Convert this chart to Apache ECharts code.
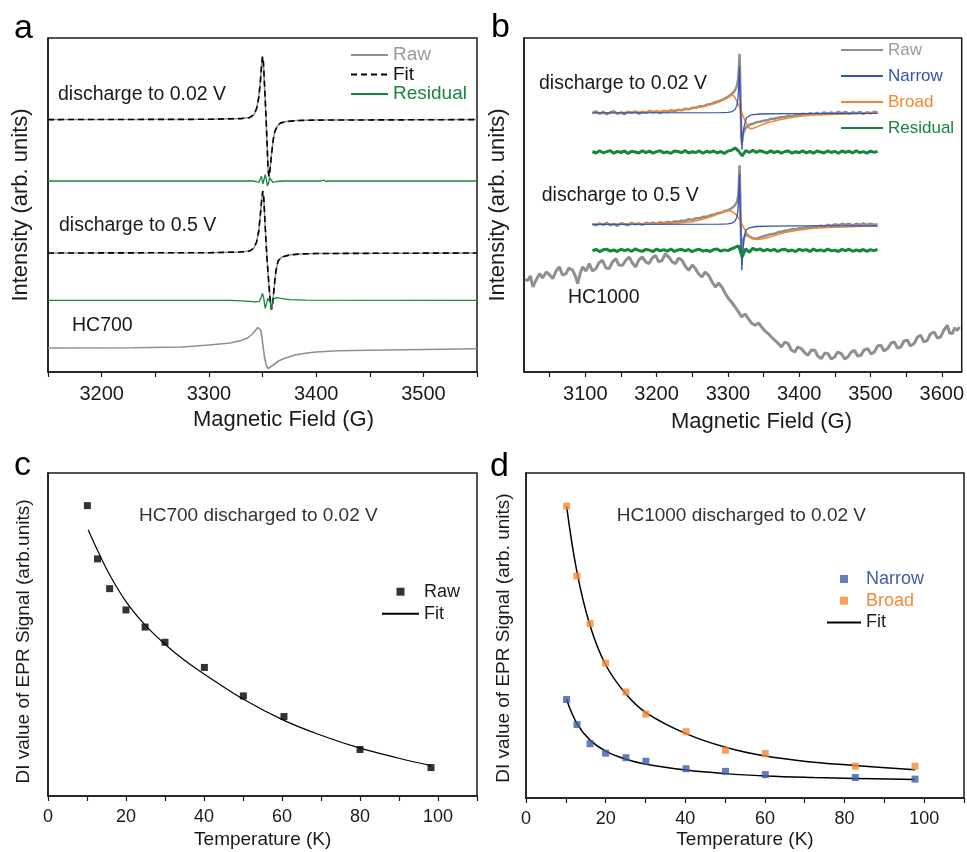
<!DOCTYPE html>
<html><head><meta charset="utf-8">
<script src="https://cdn.jsdelivr.net/npm/echarts@6/dist/echarts.min.js"></script>
<style>html,body{margin:0;padding:0;background:#fff}#c{width:967px;height:852px}</style>
</head><body><div id="c"></div>
<script>
// ---------- Panel a (HC700 EPR spectra), [field G, intensity] ----------
const a002 = [[3150,0],[3300,0.3],[3330,1],[3338,2],[3342,5],[3344.5,11],[3346.5,22],[3348,38],[3349.2,55],[3350,63],[3350.8,58],[3352,32],[3353.2,5],[3354.3,-25],[3355.2,-50],[3356,-57],[3357,-50],[3358.4,-35],[3360,-20],[3361.5,-12],[3364,-6],[3367,-3.3],[3372,-2],[3382,-1],[3400,-0.5],[3550,0]];
const a05 = [[3150,0],[3300,0.3],[3330,1],[3338,2],[3342,5],[3344.5,11],[3346.5,22],[3348,38],[3349.3,54],[3350.3,62],[3351.2,55],[3352.5,27],[3354,-2],[3355.5,-25],[3357,-45],[3358.4,-56.7],[3359.5,-50],[3361,-33],[3362.5,-18],[3364.5,-8],[3368,-4],[3375,-2],[3385,-1],[3400,-0.5],[3550,0]];
const resA1 = [[3150,0],[3340,0],[3344,-0.5],[3346.5,-1.5],[3348,2],[3349,5],[3350.3,-3],[3351.3,-1],[3352.6,6.5],[3353.6,1],[3354.6,-5],[3355.8,-1],[3356.8,3.5],[3358,1],[3360,-1.5],[3363,-0.5],[3370,0],[3405,0],[3407,0.8],[3409,-0.5],[3411,0],[3550,0]];
const resA2 = [[3150,0],[3320,0],[3335,-0.8],[3343,-1.5],[3347,-1],[3348.8,3],[3350,7],[3351.2,2],[3352.5,-8],[3353.8,-3],[3355,2],[3356.2,3.5],[3357.2,-2],[3358.2,-8.5],[3359.3,-3],[3360.5,1.5],[3363,2.7],[3367,2],[3375,0.7],[3390,0.2],[3550,0]];
const hc700 = [[3150,0],[3230,0.3],[3275,1],[3300,3],[3320,5],[3330,7.5],[3336,10],[3340,13.5],[3343,17],[3345.5,20.5],[3347,21],[3348.3,18],[3349.5,10],[3350.6,1],[3352,-10],[3353.5,-17],[3355.2,-20.7],[3357,-19.5],[3360,-17],[3365,-13],[3370,-10.5],[3380,-7],[3390,-5.3],[3400,-4],[3420,-2.8],[3450,-2.3],[3500,-1.5],[3550,-0.7]];

// ---------- Panel b (HC1000 EPR spectra) ----------
const raw002b = [[3110,0],[3115,1.5],[3120,-1],[3125,1],[3130,-1.5],[3135,0.5],[3140,1.5],[3145,-1],[3150,0.5],[3155,-1.5],[3160,1],[3165,0],[3170,1.5],[3175,-1],[3180,1],[3185,0],[3190,2],[3195,0.5],[3200,1.5],[3205,0],[3210,2],[3215,1],[3220,2.5],[3225,1.5],[3230,3],[3235,2.5],[3240,4],[3245,3.5],[3250,5],[3255,5],[3260,6.5],[3265,6.5],[3270,8],[3275,8.5],[3280,10],[3285,11],[3290,12.5],[3295,14],[3300,16],[3304,18],[3308,20.5],[3311,24],[3313,28],[3314.5,34],[3315.5,44],[3316.3,59],[3317,40],[3318,5],[3318.8,-22],[3319.5,-30],[3320.5,-24],[3322,-19],[3325,-15],[3330,-12],[3335,-11],[3340,-9.5],[3345,-9],[3350,-8],[3355,-7.5],[3360,-6],[3365,-6],[3370,-5],[3375,-4.5],[3380,-4],[3385,-3],[3390,-3.5],[3395,-2],[3400,-2.5],[3405,-1],[3410,-2],[3415,-0.5],[3420,-1.5],[3425,0],[3430,-1.5],[3435,0.5],[3440,-1],[3445,0.5],[3450,-1],[3455,1],[3460,-0.5],[3465,1],[3470,-1],[3475,0.5],[3480,-0.5],[3485,1],[3490,-1],[3495,0.5],[3500,-0.5],[3505,1],[3510,0]];
const broad002b = [[3110,0],[3150,0.3],[3185,1],[3210,1.8],[3230,2.7],[3250,4.2],[3268,6.7],[3280,9],[3287,10.7],[3295,13.5],[3301,15.8],[3306,17.7],[3309,16.5],[3312.5,11.7],[3316,6],[3319.5,0],[3323,-6],[3326.5,-11.7],[3331,-16],[3336,-15.5],[3343,-13.3],[3355,-10],[3371,-7.3],[3390,-4.5],[3417,-2.3],[3440,-1.7],[3464,-1.3],[3490,-0.5],[3510,0]];
const narrow002b = [[3110,0],[3290,0.2],[3300,0.5],[3306,1.2],[3310,3.3],[3312.5,7],[3314,13.3],[3315.3,28],[3316.2,46.5],[3317.2,18],[3318.5,-12],[3319.7,-37],[3320.9,-24],[3322.7,-14],[3326,-5],[3333,-2],[3345,-1.2],[3380,-0.8],[3510,-0.5]];
const raw05b = [[3110,0],[3115,-1],[3120,1],[3125,-0.5],[3130,1.5],[3135,-1],[3140,0.5],[3145,-1.5],[3150,1],[3155,0],[3160,-1],[3165,1.5],[3170,0],[3175,1],[3180,-0.5],[3185,1.5],[3190,0.5],[3195,1.5],[3200,0.5],[3205,2],[3210,1],[3215,2.5],[3220,1.5],[3225,3],[3230,2.5],[3235,3.5],[3240,3.5],[3245,5],[3250,4.5],[3255,6],[3260,6],[3265,7.5],[3270,7.5],[3275,9],[3280,9.5],[3285,11],[3290,11.5],[3295,13],[3300,14],[3304,15.5],[3308,17.5],[3311,20],[3313,23],[3314.5,29],[3315.5,40],[3316.3,59],[3317,38],[3318,0],[3318.8,-25],[3319.5,-32],[3320.5,-24],[3322,-15],[3325,-10],[3330,-12],[3335,-14],[3340,-14.5],[3345,-13],[3350,-12],[3355,-11],[3360,-10],[3365,-9.5],[3370,-8],[3375,-7.5],[3380,-6.5],[3385,-6],[3390,-5],[3395,-5],[3400,-4],[3405,-4],[3410,-3],[3415,-3.5],[3420,-2],[3425,-2.5],[3430,-1.5],[3435,-2],[3440,-0.5],[3445,-1.5],[3450,0],[3455,-1],[3460,0.5],[3465,-0.5],[3470,0.5],[3475,-1],[3480,0.5],[3485,-0.5],[3490,1],[3495,-0.5],[3500,0.5],[3505,-0.5],[3510,0]];
const broad05b = [[3110,0],[3160,0.3],[3200,0.8],[3231,1.3],[3250,2.5],[3268,5.7],[3280,8.5],[3287,10.7],[3293,12.8],[3298.5,14],[3304,13.3],[3310,10.7],[3315,6.5],[3319.4,0.7],[3324,-5.5],[3328.7,-11],[3334,-14],[3340.3,-15.3],[3347,-14.8],[3356.6,-13.3],[3368,-10.8],[3380,-8.3],[3398,-6],[3417,-4.3],[3440,-3.3],[3464,-2.7],[3490,-2],[3510,-1.7]];
const narrow05b = [[3110,0],[3290,0.2],[3300,0.5],[3306,1.2],[3310,3.3],[3312.5,7],[3314,13],[3315.3,27],[3316.2,50],[3317.2,20],[3318.5,-15],[3319.6,-46],[3320.8,-28],[3322.5,-14],[3325,-6],[3330,-3.5],[3340,-2.2],[3360,-1.8],[3400,-1.6],[3510,-1.5]];
const resB1Vals = [0.5,-1,1.2,-0.8,0.4,1.4,-1.2,0.6,-0.5,1,-1.4,0.8,0,-1,1.3,-0.6,0.9,-1.1,0.4,1.2,-0.9,0.2,-1.3,1,0.5,-0.7,1.4,-1,0.3,-0.5,1.1,-1.2,0.7,-0.3,1,-0.8,0.5,-1.4,0.9,1.8,4,1,-4,1.5,-0.5,1.6,-0.4,1.3,0.2,-1,1.2,-0.6,0.8,-1.1,0.5,1,-1.2,0.3,-0.7,1.1,-0.9,0.6,-1.3,1,0,-1,1.2,-0.5,0.7,-1.2,1,-0.3,0.8,-1,1.3,-0.6,0.4,-1.1,0.9,-0.4,0.6];
const resB2Vals = [-0.6,1,-1.3,0.5,1.2,-0.9,0.3,-1.2,1.1,-0.4,0.8,-1,1.4,-0.2,-1.1,0.9,0.2,-1.3,1.2,-0.6,0.6,-0.9,1.3,-1.2,0.4,1,-0.5,0.8,-1.4,0.3,1.1,-0.8,0.2,-1.2,0.7,1.3,-0.9,0.4,-0.3,1.5,3,4.5,-6.5,1.5,-1.8,2,0.2,1.4,-0.7,1,-0.3,0.9,-1.2,0.5,1.1,-0.8,0.3,-1.3,1,-0.2,0.7,-1.1,1.2,-0.5,0.4,-0.9,1.3,-0.6,0.2,-1.2,0.9,-0.4,1.1,-1,0.5,-0.7,0.8,-1.1,0.6,-0.3,0.9];
const resFieldStart = 3110, resFieldStep = 5;
const hc1000 = [[3015,92],[3019.5,91.7],[3023,96],[3026.5,85],[3031,92],[3035.8,98.4],[3040,94],[3045.2,100],[3050,97],[3054.4,93.4],[3059,101],[3063.7,105],[3068,97],[3073,98.4],[3077,104],[3082.3,101.7],[3086,96],[3089.3,88.4],[3093,99],[3096.2,105],[3101,101],[3105.6,108.4],[3110,101],[3114.9,103.4],[3119,109],[3124.1,111.7],[3129,104],[3133.5,103.4],[3138,110],[3142.8,113.4],[3147,107],[3152,106.7],[3157,112],[3161.4,115],[3166,109],[3170.7,105],[3175,112],[3179.9,115],[3185,110],[3189.3,108.4],[3194,114],[3198.6,116.7],[3203,110],[3207.8,111.7],[3212,118],[3217.2,115],[3222,110],[3226.5,108.4],[3231,114],[3235.7,111.7],[3240,106],[3245,101.7],[3250,107],[3254.4,103.4],[3259,98],[3263.6,95],[3268,100],[3273,96.7],[3278,90],[3282.3,85],[3287,89],[3291.5,85],[3296,79],[3300.8,73.4],[3305,70],[3310.2,65],[3315,60],[3319.4,55],[3324,58],[3328.7,53.4],[3333,49],[3338.1,46.7],[3343,49],[3347.3,45],[3352,41],[3356.6,38.4],[3361,35],[3366,31.7],[3370,29],[3375.2,25],[3380,30],[3384.5,28.4],[3389,22],[3393.9,20],[3398,25],[3403.1,23.4],[3408,19],[3412.4,16.7],[3417,22],[3421.8,21.7],[3426,16],[3431,13.4],[3436,19],[3440.3,18.4],[3445,13],[3449.7,15],[3454,20],[3459,18.4],[3464,13],[3468.2,15],[3473,20],[3477.6,21.7],[3482,16],[3486.8,16.7],[3491,22],[3496.1,23.4],[3501,18],[3505.4,20],[3510,26],[3514.6,26.7],[3519,21],[3524,23.4],[3529,29],[3533.4,30],[3538,24],[3542.6,25],[3547,31],[3551.9,31.7],[3556,26],[3561.3,28.4],[3566,35],[3570.5,36.7],[3575,30],[3579.8,31.7],[3584,38],[3589.2,40],[3594,34],[3598.5,35],[3603,42],[3607.8,46.7],[3611,39],[3614.8,38.4],[3618,44],[3621.8,41.7],[3625,45]];

// ---------- Panel c (HC700 DI vs T) ----------
const cTemps = [10.1,12.7,15.8,20,24.9,30,40.1,50.1,60.5,80,98.2];
const cRaw = [89.9,73.4,64.2,57.6,52.3,47.6,39.8,31.0,24.6,14.4,8.8];
const cFitT = [10.3,12.7,15.8,20,25,30,35,40,50,60.5,70,80,90,98.2];
const cFitV = [82.4,76,68.5,60.2,52.8,47,42,37.8,30,23.4,18.8,14.8,11.7,9.4];

// ---------- Panel d (HC1000 DI vs T) ----------
const dTemps = [10.2,12.8,16.1,20,25.1,30.1,40.2,50.1,60.1,82.7,97.7];
const dNarrow = [30.3,22.6,16.7,13.8,12.4,11.3,9.0,8.2,7.2,6.3,5.8];
const dBroad = [89.8,68.3,53.7,41.5,32.6,25.8,20.4,14.7,13.7,9.8,9.8];
const dFitT = [10.2,12.8,16.1,20,25.1,30.1,40.2,50.1,60.1,72.3,82.7,97.7];
const dFitBroad = [89.8,69.5,53,41,32,26.3,19.8,15.6,12.9,11.0,10.0,8.7];
const dFitNarrow = [30.3,22.9,17.8,14.4,11.9,10.4,8.6,7.5,6.8,6.3,6.0,5.7];

// ---------- Axis ticks ----------
const aTicks = [3150,3200,3250,3300,3350,3400,3450,3500,3550];
const aLabels = [3200,3300,3400,3500];
const bTicks = [3050,3100,3150,3200,3250,3300,3350,3400,3450,3500,3550,3600];
const bLabels = [3100,3200,3300,3400,3500,3600];
const tTicks = [0,10,20,30,40,50,60,70,80,90,100,110];
const tLabels = [0,20,40,60,80,100];

// ---------- layout / style ----------
const F = '"Liberation Sans", Arial, Helvetica, sans-serif';
const K = '#1a1a1a';
const GRAY = '#8f8f8f', GREEN = '#17863d', BLUE = '#3454b4', ORANGE = '#f5852a';
const BLUE_PT = '#3f5da9', ORANGE_PT = '#f28c33';
const SQ = 'path://M0,0L10,0L10,10L0,10Z';
const offA = {s1:252.4, r1:191, s2:119, r2:71.7, hc:24};
const offB = {s1:259.2, r1:220, s2:147.7, r2:121.7, hc:0};
const shift = (arr, o) => arr.map(p => [p[0], p[1] + o]);
const uni = (vals, o) => vals.map((v, i) => [resFieldStart + resFieldStep * i, v + o]);
const pairs = (xs, ys) => xs.map((x, i) => [x, ys[i]]);

function xAx(gi, min, max, ticks, labels, fs) {
  return {type:'value', gridIndex:gi, min, max,
    axisLine:{show:true, onZero:false, lineStyle:{color:K, width:1.5}},
    axisTick:{show:true, inside:false, length:5, customValues:ticks, lineStyle:{color:K, width:1.2}},
    axisLabel:{show:true, customValues:labels, fontSize:fs, color:K, margin:12, fontFamily:F,
      formatter: v => String(v)},
    splitLine:{show:false}};
}
function yAx(gi, max) {
  return {type:'value', gridIndex:gi, min:0, max,
    axisLine:{show:true, onZero:false, lineStyle:{color:K, width:1.5}},
    axisTick:{show:false}, axisLabel:{show:false}, splitLine:{show:false}};
}
function ln(name, gi, data, color, width, extra) {
  return Object.assign({type:'line', name, xAxisIndex:gi, yAxisIndex:gi, data,
    symbol:'none', showSymbol:false, clip:true,
    lineStyle:{color, width}, itemStyle:{color}, emphasis:{disabled:true}}, extra || {});
}
function sc(name, gi, data, color) {
  return {type:'scatter', name, xAxisIndex:gi, yAxisIndex:gi, data, symbol:'rect', symbolSize:7,
    itemStyle:{color}, emphasis:{disabled:true}, z:5};
}
const dash = {lineStyle:{color:'#000', width:1.6, type:[6,4]}, z:3};
const fmt = n => n.split('#')[0];
const noSym = {opacity:0};
function lgLine(name, color) { return {name, itemStyle:noSym, textStyle:{color}}; }
function lgSq(name, color) { return {name, icon:SQ, textStyle:{color}}; }

function txt(x, y, text, fs, color, extra) {
  return Object.assign({type:'text', x, y, silent:true,
    style:{text, fontSize:fs, fontFamily:F, fill:color || K, align:'left', verticalAlign:'middle',
      textAlign:'left', textVerticalAlign:'middle'}}, extra || {});
}
function ctxt(x, y, text, fs, rot) {
  return {type:'text', x, y, rotation:rot || 0, silent:true,
    style:{text, fontSize:fs, fontFamily:F, fill:K, align:'center', verticalAlign:'middle',
      textAlign:'center', textVerticalAlign:'middle'}};
}

const option = {
  animation:false,
  backgroundColor:'#fff',
  grid:[
    {left:48, top:38, width:429, height:334, show:true, borderColor:K, borderWidth:1.5},
    {left:524, top:38, width:440, height:334, show:true, borderColor:K, borderWidth:1.5},
    {left:48, top:473, width:429, height:323, show:true, borderColor:K, borderWidth:1.5},
    {left:526, top:473, width:438, height:325, show:true, borderColor:K, borderWidth:1.5}
  ],
  xAxis:[xAx(0,3150,3550,aTicks,aLabels,20), xAx(1,3014,3628,bTicks,bLabels,20),
         xAx(2,0,110,tTicks,tLabels,18), xAx(3,0,110,tTicks,tLabels,18)],
  yAxis:[yAx(0,334), yAx(1,334), yAx(2,100), yAx(3,100)],
  legend:[
    {left:345, top:40.5, orient:'vertical', itemWidth:37, itemHeight:10, itemGap:0.5, selectedMode:false,
     formatter:fmt, textStyle:{fontSize:19, fontFamily:F},
     data:[lgLine('Raw#a','#9a9a9a'), lgLine('Fit#a','#111'), lgLine('Residual#a',GREEN)]},
    {left:835, top:36.5, orient:'vertical', itemWidth:42, itemHeight:10, itemGap:9, selectedMode:false,
     formatter:fmt, textStyle:{fontSize:17, fontFamily:F},
     data:[lgLine('Raw#b','#9a9a9a'), lgLine('Narrow#b',BLUE), lgLine('Broad#b',ORANGE), lgLine('Residual#b',GREEN)]},
    {left:376, top:577.7, orient:'vertical', itemWidth:37, itemHeight:8, itemGap:4, selectedMode:false,
     symbolKeepAspect:true, formatter:fmt, textStyle:{fontSize:18, fontFamily:F, color:K},
     data:[lgSq('Raw#c',K), lgLine('Fit#c',K)]},
    {left:821, top:565, orient:'vertical', itemWidth:34, itemHeight:8, itemGap:3.7, selectedMode:false,
     symbolKeepAspect:true, formatter:fmt, textStyle:{fontSize:18, fontFamily:F},
     data:[lgSq('Narrow#d',BLUE_PT), lgSq('Broad#d',ORANGE_PT), lgLine('Fit#d',K)]}
  ],
  series:[
    // a
    ln('Raw#a',0,shift(a002,offA.s1),GRAY,1.5),
    ln('Fit#a',0,shift(a002,offA.s1),'#000',1.6,dash),
    ln('Residual#a',0,shift(resA1,offA.r1),GREEN,1.3),
    ln('Raw#a',0,shift(a05,offA.s2),GRAY,1.5),
    ln('Fit#a',0,shift(a05,offA.s2),'#000',1.6,dash),
    ln('Residual#a',0,shift(resA2,offA.r2),GREEN,1.3),
    ln('Raw#a',0,shift(hc700,offA.hc),GRAY,1.6),
    // b
    ln('Raw#b',1,shift(raw002b,offB.s1),GRAY,2.5),
    ln('Broad#b',1,shift(broad002b,offB.s1),ORANGE,1.5),
    ln('Narrow#b',1,shift(narrow002b,offB.s1),BLUE,1.3),
    ln('Residual#b',1,uni(resB1Vals,offB.r1),GREEN,3),
    ln('Raw#b',1,shift(raw05b,offB.s2),GRAY,2.5),
    ln('Broad#b',1,shift(broad05b,offB.s2),ORANGE,1.5),
    ln('Narrow#b',1,shift(narrow05b,offB.s2),BLUE,1.3),
    ln('Residual#b',1,uni(resB2Vals,offB.r2),GREEN,3),
    ln('Raw#b',1,shift(hc1000,offB.hc),GRAY,3),
    // c
    sc('Raw#c',2,pairs(cTemps,cRaw),'#000'),
    ln('Fit#c',2,pairs(cFitT,cFitV),'#000',1.2,{smooth:0.4}),
    // d
    sc('Narrow#d',3,pairs(dTemps,dNarrow),BLUE_PT),
    sc('Broad#d',3,pairs(dTemps,dBroad),ORANGE_PT),
    ln('Fit#d',3,pairs(dFitT,dFitBroad),'#000',1.5,{smooth:0.4}),
    ln('Fit#d',3,pairs(dFitT,dFitNarrow),'#000',1.5,{smooth:0.4})
  ],
  graphic:[
    txt(14,29,'a',34,'#000'), txt(491,28,'b',34,'#000'), txt(14,466,'c',34,'#000'), txt(490,467,'d',34,'#000'),
    txt(58,95,'discharge to 0.02 V',19.5), txt(59,226,'discharge to 0.5 V',19.5), txt(72,325.5,'HC700',19.5),
    txt(539,84,'discharge to 0.02 V',19.5), txt(541.7,195.5,'discharge to 0.5 V',19.5), txt(568,298,'HC1000',19.5),
    txt(139,515.7,'HC700 discharged to 0.02 V',19,'#333'), txt(616.7,516,'HC1000 discharged to 0.02 V',19,'#333'),
    ctxt(283.5,420,'Magnetic Field (G)',22), ctxt(761.5,422,'Magnetic Field (G)',22),
    ctxt(262.7,840,'Temperature (K)',19), ctxt(745,840,'Temperature (K)',19),
    ctxt(21,205,'Intensity (arb. units)',22,Math.PI/2), ctxt(497.5,205,'Intensity (arb. units)',22,Math.PI/2),
    ctxt(24,641.5,'DI value of EPR Signal (arb.units)',19,Math.PI/2), ctxt(504,638,'DI value of EPR Signal (arb. units)',19,Math.PI/2)
  ]
};
const chart = echarts.init(document.getElementById('c'), null, {renderer:'canvas'});
chart.setOption(option);
</script></body></html>
